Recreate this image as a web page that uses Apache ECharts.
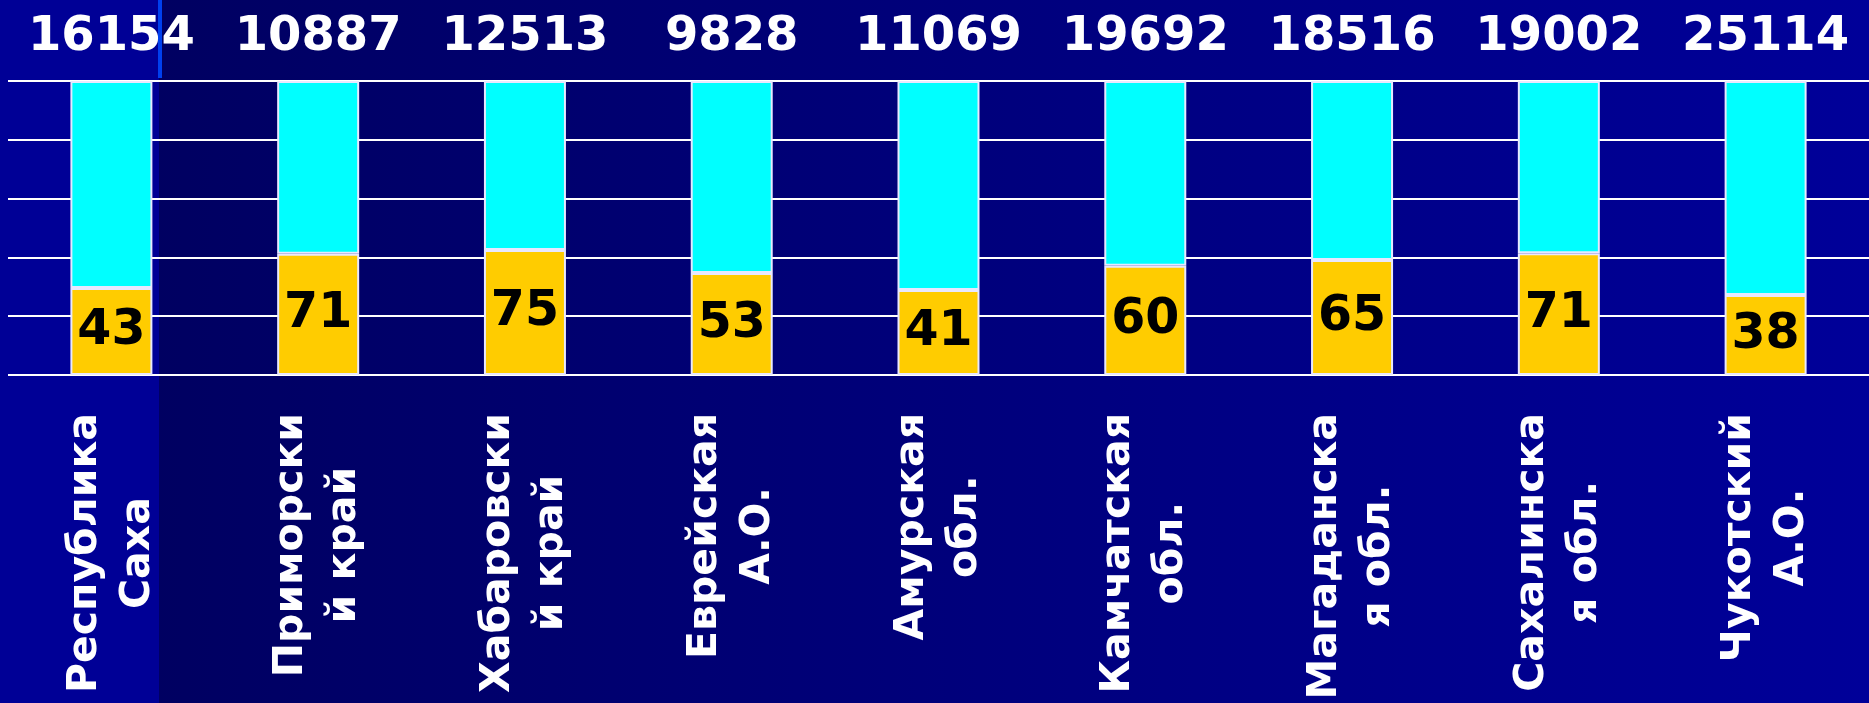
<!DOCTYPE html>
<html>
<head>
<meta charset="utf-8">
<script src="https://cdn.jsdelivr.net/npm/echarts@6/dist/echarts.min.js"></script>
<style>
html,body{margin:0;padding:0;background:#000066;}
#chart{width:1869px;height:703px;}
</style>
</head>
<body>
<div id="chart"></div>
<script>
// ---- data ----
var categories = [
  'Республика\nСаха',
  'Приморски\nй край',
  'Хабаровски\nй край',
  'Еврейская\nА.О.',
  'Амурская\nобл.',
  'Камчатская\nобл.',
  'Магаданска\nя обл.',
  'Сахалинска\nя обл.',
  'Чукотский\nА.О.'
];
var totals = [16154, 10887, 12513, 9828, 11069, 19692, 18516, 19002, 25114];
var yellowLabels = [43, 71, 75, 53, 41, 60, 65, 71, 38];
var yellowShare = [29.6, 41.2, 42.5, 34.7, 28.9, 37.2, 39.1, 41.4, 27.2];
var cyanShare = [70.4, 58.8, 57.5, 65.3, 71.1, 62.8, 60.9, 58.6, 72.8];

var chart = echarts.init(document.getElementById('chart'), null, {renderer: 'canvas'});
var FONT = '"DejaVu Sans", Verdana, sans-serif';

chart.setOption({
  backgroundColor: {
    type: 'linear', x: 0, y: 0, x2: 1, y2: 0,
    colorStops: [
      {offset: 0, color: '#00005c'},
      {offset: 1, color: '#000099'}
    ]
  },
  animation: false,
  graphic: [
    {type: 'rect', z: -10, silent: true, shape: {x: 0, y: 0, width: 159, height: 703},
     style: {fill: '#000096'}},
    {type: 'rect', z: -10, silent: true, shape: {x: 158, y: 0, width: 4, height: 78},
     style: {fill: '#0040ee'}}
  ],
  grid: {left: 8, right: 0, top: 81, bottom: 328, containLabel: false},
  xAxis: {
    type: 'category',
    data: categories,
    axisLine: {show: false},
    axisTick: {show: false},
    axisLabel: {
      interval: 0,
      rotate: 90,
      margin: 38,
      color: '#ffffff',
      fontFamily: FONT,
      fontWeight: 'bold',
      fontSize: 41,
      lineHeight: 53,
      formatter: function (v) {
        return v.split('\n').map(function (s) { return '{c|' + s + '}'; }).join('\n');
      },
      rich: {
        c: {align: 'center', color: '#ffffff', fontFamily: FONT, fontWeight: 'bold', fontSize: 41, lineHeight: 53}
      }
    }
  },
  yAxis: {
    type: 'value',
    min: 0, max: 100, interval: 20,
    axisLabel: {show: false},
    axisLine: {show: false},
    axisTick: {show: false},
    splitLine: {lineStyle: {color: '#ffffff', width: 2}}
  },
  series: [
    {
      type: 'bar',
      stack: 's',
      data: yellowShare,
      barWidth: 82,
      itemStyle: {color: '#ffcc00', borderColor: '#e8e8ff', borderWidth: 2},
      label: {
        show: true,
        position: 'inside',
        color: '#000000',
        fontFamily: FONT,
        fontWeight: 'bold',
        fontSize: 49,
        formatter: function (p) { return String(yellowLabels[p.dataIndex]); }
      }
    },
    {
      type: 'bar',
      stack: 's',
      data: cyanShare,
      barWidth: 82,
      itemStyle: {color: '#00ffff', borderColor: '#e8e8ff', borderWidth: 2},
      label: {
        show: true,
        position: 'top',
        distance: 19,
        color: '#ffffff',
        fontFamily: FONT,
        fontWeight: 'bold',
        fontSize: 48,
        formatter: function (p) { return String(totals[p.dataIndex]); }
      }
    }
  ]
});
</script>
</body>
</html>
